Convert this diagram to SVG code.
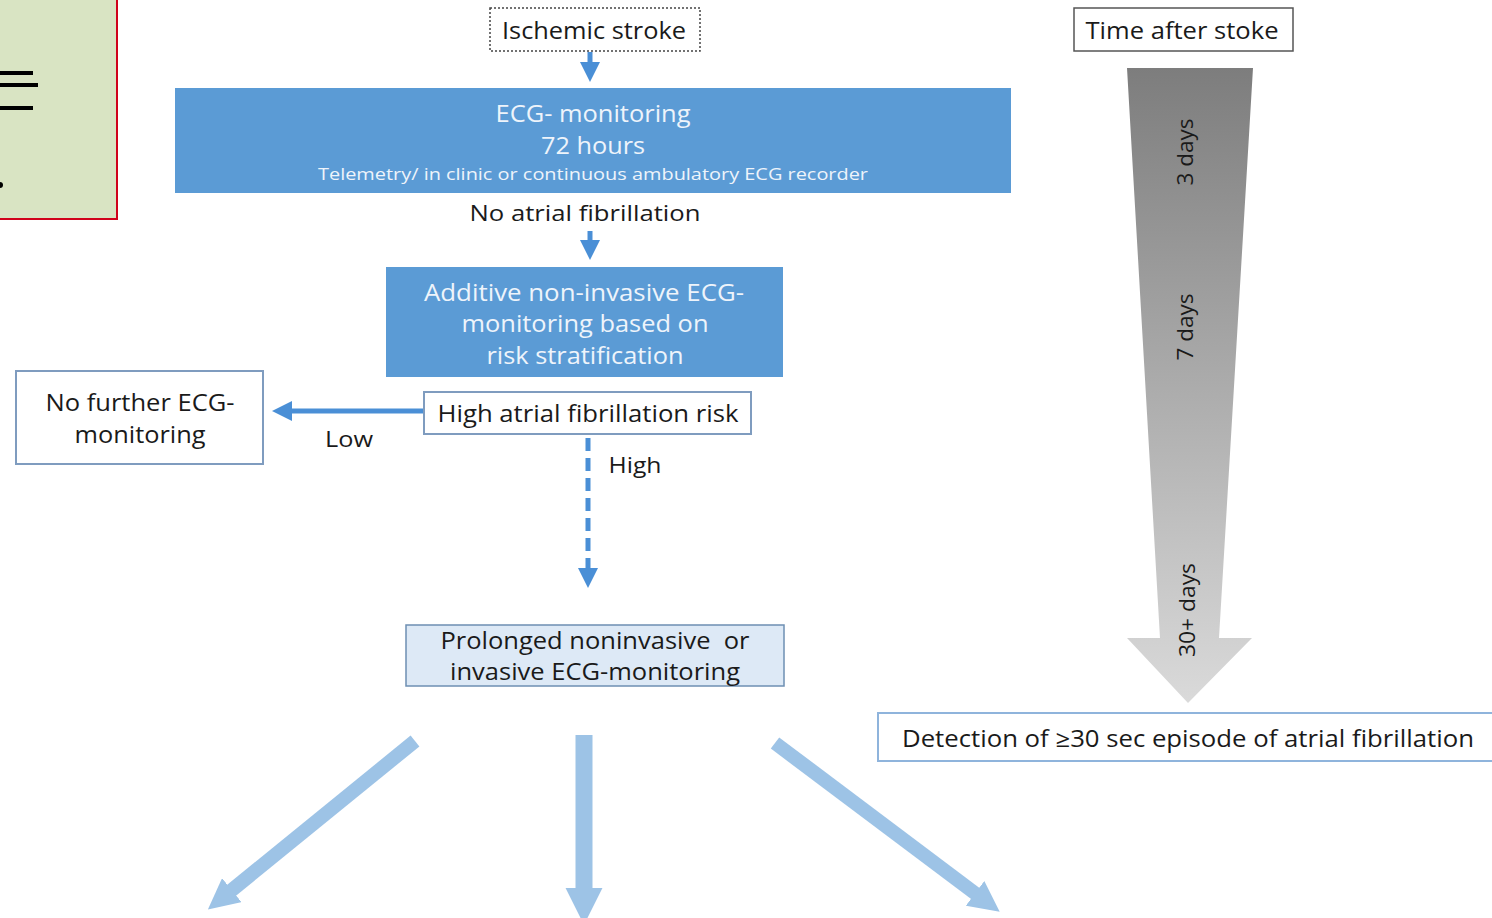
<svg xmlns="http://www.w3.org/2000/svg" width="1492" height="918" viewBox="0 0 1492 918">
<style>
.t{font-family:"Open Sans","Liberation Sans",sans-serif;fill:#1a1a1a;text-anchor:middle}
.w{font-family:"Open Sans","Liberation Sans",sans-serif;fill:#eef4fb;text-anchor:middle}
.box{fill:#ffffff;stroke:#7f9cbf;stroke-width:2}
.blue{fill:#5b9bd5}
.conn{stroke:#4a8fd6;stroke-width:5;fill:none}
.big{stroke:#9dc3e6;fill:none}
</style>
<defs>
<marker id="ah" viewBox="0 0 10 10" refX="2" refY="5" markerWidth="4" markerHeight="4" orient="auto" markerUnits="strokeWidth"><path d="M0,0 L10,5 L0,10 z" fill="#4a8fd6"/></marker>
<marker id="bh" viewBox="0 0 10 10" refX="2" refY="5" markerWidth="2.2" markerHeight="2.2" orient="auto" markerUnits="strokeWidth"><path d="M0,0 L10,5 L0,10 z" fill="#9dc3e6"/></marker>
<linearGradient id="gr" x1="0" y1="0" x2="0" y2="1">
<stop offset="0" stop-color="#7d7d7d"/>
<stop offset="1" stop-color="#dadada"/>
</linearGradient>
</defs>

<g id="sidebox">
<rect x="-5" y="-5" width="122" height="224" fill="#d9e4c3" stroke="#d0021b" stroke-width="2"/>
<line x1="0" y1="73" x2="33" y2="73" stroke="#000" stroke-width="4"/>
<line x1="0" y1="85" x2="38" y2="85" stroke="#000" stroke-width="4"/>
<line x1="0" y1="108" x2="33" y2="108" stroke="#000" stroke-width="4"/>
<circle cx="0" cy="185" r="3" fill="#000"/>
</g>

<g id="connectors">
<line class="conn" x1="590" y1="52" x2="590" y2="66" marker-end="url(#ah)"/>
<line class="conn" x1="590" y1="231" x2="590" y2="244" marker-end="url(#ah)"/>
<line class="conn" x1="424" y1="411" x2="288" y2="411" marker-end="url(#ah)"/>
<line class="conn" x1="588" y1="438" x2="588" y2="572" stroke-width="6" stroke-dasharray="13,7" marker-end="url(#ah)"/>
<line class="big" x1="415" y1="741" x2="227" y2="894" stroke-width="14" marker-end="url(#bh)"/>
<line class="big" x1="584" y1="735" x2="584" y2="895" stroke-width="17" marker-end="url(#bh)"/>
<line class="big" x1="775" y1="743" x2="980" y2="897" stroke-width="14" marker-end="url(#bh)"/>
</g>

<g id="ischemic">
<rect x="490" y="8" width="210" height="43" fill="#fff" stroke="#444" stroke-width="1.5" stroke-dasharray="2,2"/>
<text class="t" x="594" y="39" font-size="23" textLength="184" lengthAdjust="spacingAndGlyphs">Ischemic stroke</text>
</g>

<g id="ecg72">
<rect class="blue" x="175" y="88" width="836" height="105"/>
<text class="w" x="593" y="122" font-size="23" textLength="195" lengthAdjust="spacingAndGlyphs">ECG- monitoring</text>
<text class="w" x="593" y="154" font-size="23" textLength="104" lengthAdjust="spacingAndGlyphs">72 hours</text>
<text class="w" x="593" y="180" font-size="17" textLength="550" lengthAdjust="spacingAndGlyphs">Telemetry/ in clinic or continuous ambulatory ECG recorder</text>
</g>

<g id="noaf">
<text class="t" x="585" y="221" font-size="22" textLength="231" lengthAdjust="spacingAndGlyphs">No atrial fibrillation</text>
</g>

<g id="additive">
<rect class="blue" x="386" y="267" width="397" height="110"/>
<text class="w" x="584" y="301" font-size="23" textLength="320" lengthAdjust="spacingAndGlyphs">Additive non-invasive ECG-</text>
<text class="w" x="585" y="332" font-size="23" textLength="247" lengthAdjust="spacingAndGlyphs">monitoring based on</text>
<text class="w" x="585" y="364" font-size="23" textLength="197" lengthAdjust="spacingAndGlyphs">risk stratification</text>
</g>

<g id="highrisk">
<rect class="box" x="424" y="392" width="327" height="42"/>
<text class="t" x="588" y="422" font-size="23" textLength="301" lengthAdjust="spacingAndGlyphs">High atrial fibrillation risk</text>
</g>

<g id="nofurther">
<rect class="box" x="16" y="371" width="247" height="93"/>
<text class="t" x="140" y="411" font-size="23" textLength="189" lengthAdjust="spacingAndGlyphs">No further ECG-</text>
<text class="t" x="140" y="443" font-size="23" textLength="131" lengthAdjust="spacingAndGlyphs">monitoring</text>
</g>

<g id="labels">
<text class="t" x="349" y="447" font-size="22" textLength="48" lengthAdjust="spacingAndGlyphs">Low</text>
<text class="t" x="635" y="473" font-size="22" textLength="53" lengthAdjust="spacingAndGlyphs">High</text>
</g>

<g id="prolonged">
<rect x="406" y="625" width="378" height="61" fill="#dde9f6" stroke="#6d8fb3" stroke-width="1.5"/>
<text class="t" x="595" y="649" font-size="23" textLength="309" lengthAdjust="spacingAndGlyphs" style="white-space:pre">Prolonged noninvasive  or</text>
<text class="t" x="595" y="680" font-size="23" textLength="290" lengthAdjust="spacingAndGlyphs">invasive ECG-monitoring</text>
</g>

<g id="timeafter">
<rect x="1074" y="8" width="219" height="43" fill="#fff" stroke="#555" stroke-width="1.5"/>
<text class="t" x="1182" y="39" font-size="23" textLength="193" lengthAdjust="spacingAndGlyphs">Time after stoke</text>
</g>

<g id="timearrow">
<path d="M1127,68 L1253,68 L1219,638 L1252,638 L1188,703 L1127,638 L1160,638 Z" fill="url(#gr)"/>
<text class="t" transform="translate(1193,152) rotate(-90)" font-size="22" textLength="67" lengthAdjust="spacingAndGlyphs">3 days</text>
<text class="t" transform="translate(1193,327) rotate(-90)" font-size="22" textLength="67" lengthAdjust="spacingAndGlyphs">7 days</text>
<text class="t" transform="translate(1195,610) rotate(-90)" font-size="22" textLength="94" lengthAdjust="spacingAndGlyphs">30+ days</text>
</g>

<g id="detection">
<rect x="878" y="713" width="620" height="48" fill="#fff" stroke="#8fb4dc" stroke-width="2"/>
<text class="t" x="902" y="747" font-size="23" textLength="572" lengthAdjust="spacingAndGlyphs" style="text-anchor:start">Detection of ≥30 sec episode of atrial fibrillation</text>
</g>
</svg>
